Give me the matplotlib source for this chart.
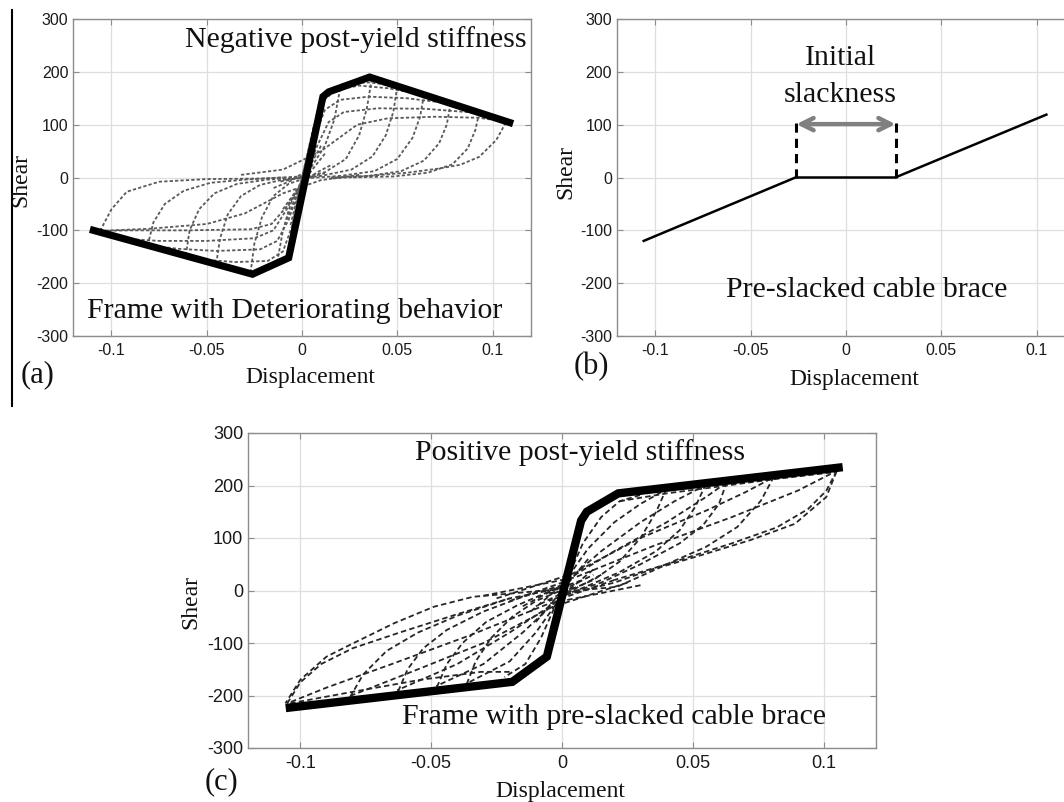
import matplotlib
matplotlib.use("Agg")
import matplotlib.pyplot as plt
from matplotlib.lines import Line2D

# ---------------- data ----------------
x_ticks = [-0.1, -0.05, 0, 0.05, 0.1]
x_tick_labels = ["-0.1", "-0.05", "0", "0.05", "0.1"]
y_ticks = [-300, -200, -100, 0, 100, 200, 300]
y_tick_labels = ["-300", "-200", "-100", "0", "100", "200", "300"]

# (a) backbone (thick line)
a_env_x = [-0.1095, -0.026, -0.007, 0.011, 0.014, 0.0355, 0.109]
a_env_y = [-100, -183, -152, 153, 162, 190, 104]

# (a) hysteresis curves (dashed), each a list of (displacement, shear)
a_load_pos = [
    [(-0.004, -100), (0.002, 20), (0.008, 120), (0.013, 160), (0.022, 178), (0.036, 180), (0.050, 172)],
    [(-0.006, -90), (0.000, 0), (0.006, 95), (0.011, 145), (0.018, 166), (0.030, 174), (0.045, 169), (0.064, 156)],
    [(-0.008, -80), (0.000, -5), (0.007, 80), (0.012, 128), (0.020, 147), (0.035, 153), (0.055, 150), (0.078, 140)],
    [(-0.010, -60), (0.000, -10), (0.008, 60), (0.014, 105), (0.022, 124), (0.040, 131), (0.065, 130), (0.093, 122)],
    [(-0.032, 5), (-0.010, 15), (0.010, 50), (0.029, 100), (0.045, 112), (0.070, 115), (0.093, 113), (0.108, 105)],
]
a_load_neg = [
    [(0.006, 90), (0.000, 0), (-0.005, -90), (-0.010, -140), (-0.018, -158), (-0.035, -160), (-0.050, -156), (-0.061, -148)],
    [(0.008, 80), (0.000, -5), (-0.007, -80), (-0.013, -120), (-0.022, -136), (-0.045, -139), (-0.065, -135), (-0.081, -128)],
    [(0.010, 60), (0.000, -5), (-0.008, -60), (-0.015, -100), (-0.025, -115), (-0.050, -120), (-0.075, -120), (-0.094, -116)],
    [(0.012, 45), (0.000, -10), (-0.008, -55), (-0.016, -88), (-0.027, -98), (-0.060, -100), (-0.090, -100), (-0.106, -101)],
    [(0.030, 5), (0.010, -5), (-0.010, -30), (-0.030, -68), (-0.050, -88), (-0.080, -97), (-0.106, -101)],
]
a_arc_pos = [
    [(0.020, 168), (0.017, 110), (0.012, 60), (0.005, 20), (-0.005, -5), (-0.015, -20)],
    [(0.0366, 186), (0.034, 130), (0.030, 80), (0.023, 35), (0.012, 10), (0.000, 0), (-0.012, -8)],
    [(0.050, 172), (0.048, 125), (0.044, 80), (0.037, 40), (0.026, 15), (0.010, 3), (-0.010, -5)],
    [(0.064, 156), (0.062, 115), (0.058, 75), (0.050, 35), (0.038, 12), (0.020, 3), (0.000, -2)],
    [(0.078, 140), (0.076, 100), (0.072, 65), (0.064, 32), (0.052, 12), (0.035, 3), (0.015, 0)],
    [(0.093, 122), (0.091, 90), (0.087, 55), (0.079, 25), (0.066, 9), (0.048, 2), (0.025, 0)],
    [(0.107, 104), (0.102, 71), (0.093, 39), (0.083, 24), (0.072, 17), (0.055, 9), (0.035, 3), (0.015, -2)],
]
a_arc_neg = [
    [(-0.013, -160), (-0.010, -100), (-0.006, -50), (0.000, -10), (0.008, 10), (0.016, 25)],
    [(-0.027, -180), (-0.025, -125), (-0.021, -75), (-0.015, -35), (-0.007, -12), (0.003, 0), (0.012, 8)],
    [(-0.045, -163), (-0.043, -115), (-0.039, -70), (-0.032, -35), (-0.022, -14), (-0.010, -4), (0.005, 2)],
    [(-0.061, -147), (-0.059, -100), (-0.054, -60), (-0.046, -30), (-0.034, -12), (-0.018, -4), (0.000, 0)],
    [(-0.081, -128), (-0.078, -85), (-0.072, -50), (-0.062, -25), (-0.048, -10), (-0.030, -4), (-0.010, 0)],
    [(-0.106, -101), (-0.100, -60), (-0.092, -27), (-0.075, -8), (-0.050, -3), (-0.022, -2), (0.000, 2)],
]

# (b) cable brace
b_x = [-0.106, -0.0265, 0.0258, 0.105]
b_y = [-120, 0, 0, 119]
b_slack = [-0.026, 0.026]
b_mark_top = 103
b_arrow_y = 101

# (c) backbone (thick line)
c_env_x = [-0.104, -0.019, -0.0058, 0.0073, 0.0095, 0.0215, 0.1057]
c_env_y = [-223, -174, -126, 133, 150, 185, 234]

c_load_pos = [
    [(-0.010, -60), (0.000, 0), (0.008, 90), (0.015, 140), (0.022, 170), (0.030, 182)],
    [(-0.012, -40), (0.000, 10), (0.010, 80), (0.020, 130), (0.030, 165), (0.040, 193)],
    [(-0.015, -30), (0.000, 10), (0.015, 75), (0.030, 130), (0.043, 170), (0.055, 201)],
    [(-0.020, -20), (0.000, 15), (0.020, 75), (0.040, 130), (0.055, 178), (0.063, 206)],
    [(-0.025, -15), (0.004, 32), (0.030, 100), (0.055, 152), (0.070, 187), (0.081, 216)],
    [(-0.030, -10), (0.005, 25), (0.035, 85), (0.065, 140), (0.090, 190), (0.105, 228)],
    [(-0.005, -5), (0.021, 7), (0.038, 45), (0.055, 70), (0.072, 96), (0.089, 127), (0.101, 178), (0.105, 228)],
    [(0.022, 170), (0.040, 185), (0.060, 198), (0.081, 212), (0.105, 226)],
]
c_load_neg = [
    [(0.010, 60), (0.000, 0), (-0.008, -90), (-0.014, -140), (-0.022, -165)],
    [(0.012, 40), (0.000, -10), (-0.010, -80), (-0.020, -135), (-0.036, -176)],
    [(0.015, 30), (0.000, -10), (-0.015, -80), (-0.030, -140), (-0.048, -182)],
    [(0.020, 20), (0.000, -15), (-0.020, -80), (-0.040, -140), (-0.063, -190)],
    [(0.025, 15), (-0.004, -32), (-0.030, -100), (-0.055, -150), (-0.081, -201)],
    [(0.030, 10), (-0.005, -25), (-0.035, -85), (-0.065, -140), (-0.090, -185), (-0.105, -215)],
    [(0.005, 5), (-0.034, -12), (-0.049, -31), (-0.064, -62), (-0.080, -101), (-0.090, -126), (-0.100, -170), (-0.1057, -215)],
    [(-0.020, -155), (-0.031, -155), (-0.054, -170), (-0.080, -193), (-0.104, -215)],
]
c_arc_pos = [
    [(0.040, 195), (0.036, 150), (0.030, 100), (0.022, 55), (0.012, 20), (0.000, -5), (-0.010, -30)],
    [(0.055, 203), (0.051, 160), (0.045, 115), (0.036, 75), (0.022, 35), (0.008, 5), (-0.005, -20)],
    [(0.063, 207), (0.060, 165), (0.054, 125), (0.045, 90), (0.030, 50), (0.015, 15), (0.000, -10)],
    [(0.081, 217), (0.076, 171), (0.067, 121), (0.055, 83), (0.040, 50), (0.020, 15), (0.000, -10)],
    [(0.105, 228), (0.101, 190), (0.094, 155), (0.082, 120), (0.065, 90), (0.040, 50), (0.020, 20)],
]
c_arc_neg = [
    [(-0.0364, -178), (-0.033, -135), (-0.027, -90), (-0.019, -50), (-0.010, -20), (0.002, 5), (0.012, 30)],
    [(-0.0478, -184), (-0.044, -140), (-0.038, -100), (-0.029, -60), (-0.017, -28), (-0.004, 0), (0.008, 20)],
    [(-0.0626, -192), (-0.059, -150), (-0.053, -110), (-0.044, -75), (-0.030, -40), (-0.015, -12), (0.000, 10)],
    [(-0.081, -203), (-0.076, -160), (-0.067, -115), (-0.055, -80), (-0.040, -48), (-0.020, -15), (0.000, 5)],
    [(-0.105, -215), (-0.100, -175), (-0.092, -140), (-0.080, -110), (-0.062, -80), (-0.040, -45), (-0.020, -15)],
]

# ---------------- styling / layout ----------------
W, H = 1064, 802
fig = plt.figure(figsize=(W / 100, H / 100), dpi=100)
fig.patch.set_facecolor("white")

SERIF = ["Liberation Serif", "DejaVu Serif"]
SANS = ["Liberation Sans", "DejaVu Sans"]


def px_axes(x0, y0, x1, y1):
    return fig.add_axes([x0 / W, 1 - y1 / H, (x1 - x0) / W, (y1 - y0) / H])


def style(ax, tick_fs):
    ax.set_xlim(-0.12, 0.12)
    ax.set_ylim(-300, 300)
    ax.set_xticks(x_ticks)
    ax.set_xticklabels(x_tick_labels, family=SANS, fontsize=tick_fs, color="#1a1a1a")
    ax.set_yticks(y_ticks)
    ax.set_yticklabels(y_tick_labels, family=SANS, fontsize=tick_fs, color="#1a1a1a")
    ax.tick_params(direction="in", length=4, width=0.8, color="#8c8c8c",
                   top=True, right=True)
    ax.tick_params(axis="y", pad=3.5)
    ax.tick_params(axis="x", pad=5)
    ax.grid(True, color="#dedede", lw=0.9)
    ax.set_axisbelow(True)
    for s in ax.spines.values():
        s.set_color("#8c8c8c")
        s.set_linewidth(1.0)


def draw_curves(ax, curves, color, lw, dashes):
    for c in curves:
        xs = [p[0] for p in c]
        ys = [p[1] for p in c]
        ax.plot(xs, ys, color=color, lw=lw, dashes=dashes, zorder=2)


def figtext(x, y, s, size, rot=0):
    fig.text(x / W, 1 - y / H, s, family=SERIF, fontsize=size, rotation=rot,
             ha="center", va="center", color="#111111")


# ---- panel (a)
axa = px_axes(73.4, 19, 530.6, 336)
style(axa, 11.5)
for fam in (a_load_pos, a_load_neg, a_arc_pos, a_arc_neg):
    draw_curves(axa, fam, "#595959", 1.3, (1.8, 1.2))
axa.plot(a_env_x, a_env_y, color="black", lw=5.2, solid_joinstyle="miter", zorder=3)
axa.text(0.028, 262, "Negative post-yield stiffness", family=SERIF, fontsize=21.5,
         ha="center", va="center", color="#111111")
axa.text(-0.004, -252, "Frame with Deteriorating behavior", family=SERIF, fontsize=21.5,
         ha="center", va="center", color="#111111")

# ---- panel (b)
axb = px_axes(617, 19, 1075, 336)
style(axb, 11.5)
axb.plot(b_x, b_y, color="black", lw=1.8, zorder=3)
for xv in b_slack:
    axb.plot([xv, xv], [0, b_mark_top], color="black", lw=2.2, dashes=(3, 2), zorder=3)
axb.annotate("", xy=(b_slack[1], b_arrow_y), xytext=(b_slack[0], b_arrow_y),
             arrowprops=dict(arrowstyle="<->", color="#808080", lw=3.2, mutation_scale=22,
                             shrinkA=0, shrinkB=0))
axb.text(-0.003, 226, "Initial", family=SERIF, fontsize=21.5, ha="center", va="center", color="#111111")
axb.text(-0.003, 156, "slackness", family=SERIF, fontsize=21.5, ha="center", va="center", color="#111111")
axb.text(0.011, -213, "Pre-slacked cable brace", family=SERIF, fontsize=21.5,
         ha="center", va="center", color="#111111")

# ---- panel (c)
axc = px_axes(248, 433, 876, 748)
style(axc, 13)
for fam in (c_load_pos, c_load_neg, c_arc_pos, c_arc_neg):
    draw_curves(axc, fam, "#262626", 1.3, (3.0, 1.8))
axc.plot(c_env_x, c_env_y, color="black", lw=6, solid_joinstyle="miter", zorder=3)
axc.text(0.007, 262, "Positive post-yield stiffness", family=SERIF, fontsize=21.5,
         ha="center", va="center", color="#111111")
axc.text(0.0197, -240, "Frame with pre-slacked cable brace", family=SERIF, fontsize=21.5,
         ha="center", va="center", color="#111111")

# ---- axis labels & panel letters (figure pixel positions)
figtext(21, 180, "Shear", 17, rot=90)
figtext(310, 377, "Displacement", 17)
figtext(566, 172, "Shear", 17, rot=90)
figtext(854, 380, "Displacement", 17)
figtext(191, 602, "Shear", 17, rot=90)
figtext(560, 791, "Displacement", 17)
figtext(38, 375, "(a)", 22)
figtext(591, 367, "(b)", 22)
figtext(221, 782, "(c)", 22)

# page margin rule on the left
fig.add_artist(Line2D([12 / W, 12 / W], [1 - 10 / H, 1 - 406 / H], color="black", lw=1.5))

fig.savefig("out.png", dpi=100, facecolor="white")
